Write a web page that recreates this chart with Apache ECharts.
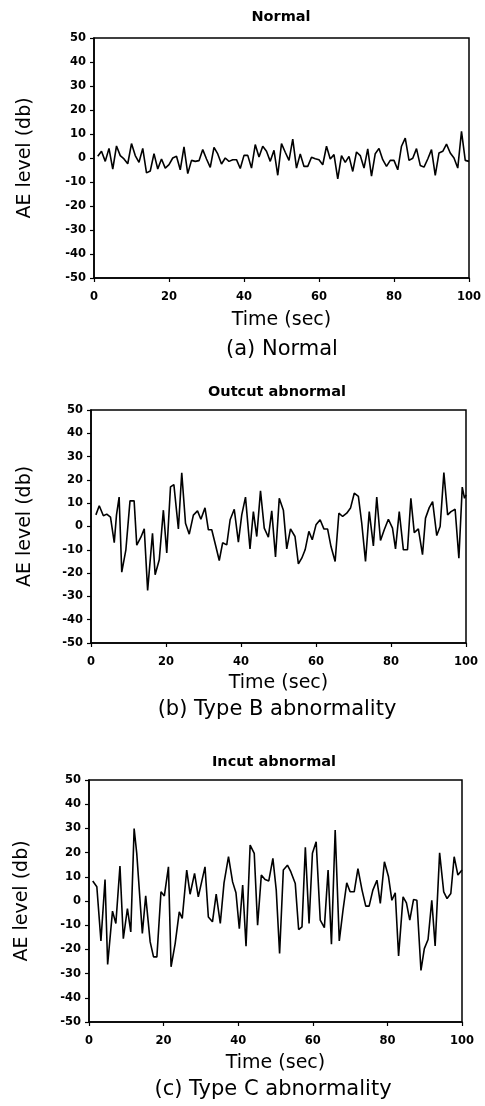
<!DOCTYPE html>
<html>
<head>
<meta charset="utf-8">
<script src="https://cdn.jsdelivr.net/npm/echarts@6/dist/echarts.min.js"></script>
<style>
html,body{margin:0;padding:0;background:#fff;}
#chart{width:485px;height:1106px;}
</style>
</head>
<body>
<div id="chart"></div>
<script>
// ---- Data ----
const panelTitles = ["Normal", "Outcut abnormal", "Incut abnormal"];
const captions = ["(a) Normal", "(b) Type B abnormality", "(c) Type C abnormality"];
const xAxisName = "Time (sec)";
const yAxisName = "AE level (db)";

const time1 = [1,2,3,4,5,6,7,8,9,10,11,12,13,14,15,16,17,18,19,20,21,22,23,24,25,26,27,28,29,30,31,32,33,34,35,36,37,38,39,40,41,42,43,44,45,46,47,48,49,50,51,52,53,54,55,56,57,58,59,60,61,62,63,64,65,66,67,68,69,70,71,72,73,74,75,76,77,78,79,80,81,82,83,84,85,86,87,88,89,90,91,92,93,94,95,96,97,98,99,100];
const level1 = [0.7,2.8,-1.4,4,-4.6,5,1,-0.4,-2.4,6,1,-1.8,4,-6.2,-5.4,1.8,-4.6,-0.4,-4.2,-2.8,0,0.7,-4.9,4.6,-6.5,-1,-1.4,-1.1,3.5,-0.4,-3.9,4.4,1.7,-2.5,0,-1.4,-0.7,-0.7,-4.4,1.1,1.1,-4.2,5.6,0.4,4.9,2.8,-1.4,3.2,-7.2,6,2.4,-1,7.9,-4.2,1.7,-3.5,-3.5,0.3,-0.3,-0.7,-2.8,4.9,-0.4,1.4,-8.7,1,-1.8,0.7,-5.6,2.5,1,-4.2,3.8,-7.6,1.8,4,-0.7,-3.5,-1,-1,-4.9,4.9,8.3,-1,-0.1,3.9,-3.1,-3.8,-0.4,3.5,-7.2,2.1,2.8,5.8,2.1,0,-4.2,11.1,-1,-1.4];

const time2 = [1.3,2.2,3.3,4.2,5.2,6.2,6.8,7.5,8.2,9.3,10.4,11.5,12.2,13.3,14.2,15.1,16.4,17.1,18.2,19.3,20.2,21.2,22.1,23.3,24.2,25.2,26.2,27.3,28.4,29.3,30.4,31.3,32.2,33.3,34.2,35.1,36.2,37.1,38.2,39.3,40.2,41.2,42.4,43.3,44.2,45.2,46.2,47.3,48.2,49.2,50.2,51.3,52.2,53.2,54.4,55.3,56.2,57.1,58.1,59.0,60.0,61.1,62.1,63.1,64.0,65.1,66.1,67.1,68.2,69.2,70.2,71.3,72.2,73.2,74.2,75.3,76.2,77.2,78.2,79.3,80.4,81.2,82.2,83.3,84.4,85.3,86.2,87.3,88.4,89.2,90.2,91.1,92.2,93.1,94.1,95.1,96.0,97.1,98.1,99.0,99.6,100];
const level2 = [5,8.9,4.6,5.3,4,-6.9,5,12.6,-19.6,-10,11,11,-8,-4.6,-1,-27.4,-2.9,-20.7,-14.3,7,-11.4,17,18,-1,23,1.4,-3.3,4.9,6.7,3.1,8,-1.4,-1.4,-8.6,-14.6,-7,-7.9,2.9,7.4,-6.7,5,12.6,-9.6,6.4,-4.3,15.3,-0.7,-4.6,6.7,-13.1,12.1,7,-9.6,-1,-4.3,-16,-13.6,-10,-2.1,-5.7,0.7,2.9,-1,-1.1,-8.6,-15,5.7,4.3,5.7,7.9,14.3,12.9,1.4,-15,6.4,-8.3,12.6,-6,-1.4,3.1,-0.7,-9.6,6.4,-10,-10,12.1,-2.6,-1,-12.1,3.6,8.1,10.7,-3.9,0,23.1,5,6.4,7.4,-13.6,16.9,12.1,13.6];

const time3 = [1.0,2.1,3.2,4.3,5.0,6.3,7.2,8.3,9.2,10.3,11.2,12.1,12.8,14.3,15.2,16.4,17.3,18.2,19.3,20.2,21.3,22.0,23.1,24.2,25.0,26.2,27.1,28.3,29.3,31.1,32.0,33.1,34.1,35.2,36.2,37.4,38.5,39.4,40.3,41.2,42.1,43.2,44.3,45.2,46.2,47.2,48.2,49.3,50.2,51.1,52.1,53.2,54.1,55.3,56.2,57.1,58.0,59.0,59.9,60.9,62.0,63.1,64.1,65.0,66.0,67.1,68.1,69.1,70.0,71.1,72.1,73.2,74.2,75.1,76.1,77.2,78.1,79.2,80.3,81.2,82.1,83.0,84.2,85.1,86.0,87.0,87.9,89.0,89.9,90.9,91.9,92.8,94.0,95.1,96.0,97.0,97.9,98.9,100];
const level3 = [8.3,5.9,-16.5,8.9,-26.2,-4.2,-9.3,14.4,-15.6,-3.1,-12.8,29.9,19.7,-13.4,2.1,-16.9,-23.1,-23.1,3.8,2.1,14.1,-27.2,-17.6,-4.5,-7.2,12.8,2.8,11.4,1.7,14.1,-6.6,-8.6,2.8,-9.3,7.5,18.3,7.9,3.4,-11.4,6.6,-18.7,23.1,19.7,-10,10.7,8.9,8.3,17.6,4.5,-21.7,12.8,14.8,12.1,7.2,-11.8,-10.7,22.2,-9.3,19.7,24.5,-7.9,-11,12.8,-17.9,29.3,-16.5,-3.8,7.5,3.8,3.8,13.4,4.5,-2.1,-2.1,4.5,8.6,-1,16.2,10,0.3,3.4,-22.7,1.7,-0.8,-7.9,0.6,0.3,-28.7,-19.7,-15.9,0.3,-18.6,19.9,3.8,1,3.1,18.3,10.7,12.8];

const xMin = 0, xMax = 100, xStep = 20;
const yMin = -50, yMax = 50, yStep = 10;

// ---- Layout ----
const FONT = "DejaVu Sans, Liberation Sans, Arial, sans-serif";
const grids = [
  {left: 94, right: 16, top: 38, height: 240},
  {left: 91, right: 19, top: 410, height: 233},
  {left: 89, right: 23, top: 780, height: 242}
];
const xNameGap = [33, 31, 32];
const yNameGap = [59, 56, 57];
const titlePos = [[281, 17], [277, 392], [274, 762]];
const captionPos = [[282, 350], [277, 710], [273, 1090]];

const times = [time1, time2, time3];
const levels = [level1, level2, level3];

const chart = echarts.init(document.getElementById('chart'), null, {renderer: 'canvas'});

const option = {
  backgroundColor: '#fff',
  animation: false,
  grid: grids.map(g => Object.assign({show: true, borderColor: '#000', borderWidth: 1.5, backgroundColor: 'transparent'}, g)),
  xAxis: grids.map((g, i) => ({
    type: 'value', gridIndex: i, min: xMin, max: xMax, interval: xStep,
    name: xAxisName, nameLocation: 'middle', nameGap: xNameGap[i],
    nameTextStyle: {fontFamily: FONT, fontSize: 19, color: '#000'},
    axisLine: {show: true, onZero: false, lineStyle: {color: '#000', width: 1.5}},
    axisTick: {show: true, inside: false, length: 4, lineStyle: {color: '#000', width: 1.2}},
    axisLabel: {margin: 13, fontFamily: FONT, fontWeight: 'bold', fontSize: 11.5, color: '#000'},
    splitLine: {show: false}
  })),
  yAxis: grids.map((g, i) => ({
    type: 'value', gridIndex: i, min: yMin, max: yMax, interval: yStep,
    name: yAxisName, nameLocation: 'middle', nameGap: yNameGap[i], nameRotate: 90,
    nameTextStyle: {fontFamily: FONT, fontSize: 19, color: '#000'},
    axisLine: {show: true, onZero: false, lineStyle: {color: '#000', width: 1.5}},
    axisTick: {show: true, inside: false, length: 4, lineStyle: {color: '#000', width: 1.2}},
    axisLabel: {margin: 8, fontFamily: FONT, fontWeight: 'bold', fontSize: 11.5, color: '#000'},
    splitLine: {show: false}
  })),
  series: times.map((t, i) => ({
    type: 'line', xAxisIndex: i, yAxisIndex: i,
    data: t.map((x, k) => [x, levels[i][k]]),
    showSymbol: false, symbol: 'none',
    lineStyle: {color: '#000', width: 1.6},
    clip: true
  })),
  graphic: [
    ...panelTitles.map((s, i) => ({
      type: 'text', x: titlePos[i][0], y: titlePos[i][1],
      style: {text: s, fill: '#000', font: 'bold 14.5px ' + FONT, textAlign: 'center', textVerticalAlign: 'middle', align: 'center', verticalAlign: 'middle'}
    })),
    ...captions.map((s, i) => ({
      type: 'text', x: captionPos[i][0], y: captionPos[i][1],
      style: {text: s, fill: '#000', font: '21px ' + FONT, textAlign: 'center', textVerticalAlign: 'middle', align: 'center', verticalAlign: 'middle'}
    }))
  ]
};
chart.setOption(option);
</script>
</body>
</html>
